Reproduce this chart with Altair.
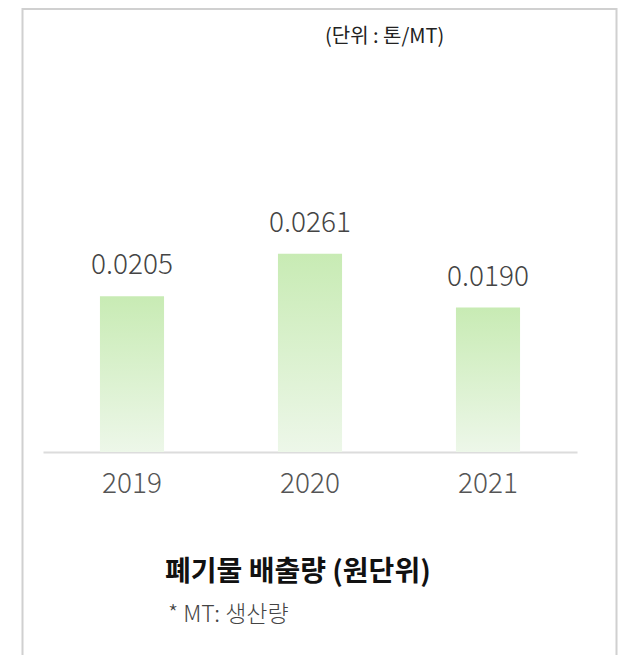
import altair as alt
import pandas as pd

years = ["2019", "2020", "2021"]
values = [0.0205, 0.0261, 0.0190]
labels = ["0.0205", "0.0261", "0.0190"]

unit_text = "(단위 : 톤/MT)"
title_text = "폐기물 배출량 (원단위)"
note_text = "* MT: 생산량"

FONT = "Noto Sans CJK KR"
W, H = 534, 228

df = pd.DataFrame({"year": years, "value": values, "label": labels})

xenc = alt.X(
    "year:N",
    sort=years,
    scale=alt.Scale(paddingInner=0.64, paddingOuter=0.32),
    axis=alt.Axis(
        title=None,
        labelAngle=0,
        ticks=False,
        tickSize=0,
        labelPadding=40,
        labelBaseline="alphabetic",
        labelFontSize=28,
        labelFontWeight=300,
        labelFont=FONT,
        labelColor="#555555",
        domainColor="#dcdcdc",
        domainWidth=2,
        grid=False,
    ),
)
yenc = alt.Y("value:Q", scale=alt.Scale(domain=[0, 0.03]), axis=None)

base = alt.Chart(df)

bars = base.mark_bar(
    color=alt.Gradient(
        gradient="linear",
        stops=[
            alt.GradientStop(color="#c8ebb4", offset=0),
            alt.GradientStop(color="#edf7e9", offset=1),
        ],
        x1=1, x2=1, y1=0, y2=1,
    )
).encode(x=xenc, y=yenc)

vals = base.mark_text(
    font=FONT, fontSize=28, fontWeight=300, color="#444444", baseline="alphabetic", dy=-22
).encode(x=xenc, y=yenc, text="label:N")

one = alt.Chart(pd.DataFrame({"a": [0]}))

border = one.mark_rect(fill="transparent", stroke="#d0d0d0", strokeWidth=2).encode(
    x=alt.value(-20.5), x2=alt.value(573.5), y=alt.value(-215), y2=alt.value(445)
)

unit = one.mark_text(
    font=FONT, fontSize=20, color="#222222", align="left", baseline="alphabetic"
).encode(x=alt.value(282), y=alt.value(-181), text=alt.value(unit_text))

title = one.mark_text(
    font=FONT, fontSize=28, fontWeight="bold", color="#111111", align="left", baseline="alphabetic"
).encode(x=alt.value(122), y=alt.value(357), text=alt.value(title_text))

note = one.mark_text(
    font=FONT, fontSize=23, fontWeight=300, color="#444444", align="left", baseline="alphabetic"
).encode(x=alt.value(125), y=alt.value(398), text=alt.value(note_text))

chart = (
    alt.layer(border, bars, vals, unit, title, note)
    .properties(
        width=W,
        height=H,
        autosize=alt.AutoSizeParams(type="none"),
        padding={"left": 35, "top": 216, "right": 41, "bottom": 203},
        background="white",
    )
    .configure_view(strokeWidth=0)
)

chart.save("out.html", embed_options={"renderer": "svg", "actions": False})
